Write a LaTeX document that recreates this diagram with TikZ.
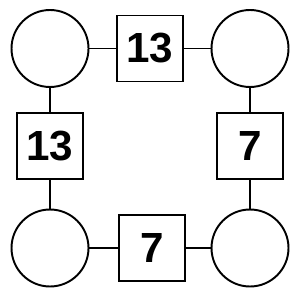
\documentclass[tikz,border=0pt]{standalone}
\usepackage{fontspec}
\setmainfont{Liberation Sans}
\usepackage{tikz}
\usetikzlibrary{positioning}

\begin{document}
\begin{tikzpicture}[x=0.02cm, y=-0.02cm, line width=1.1pt,
  spot/.style = {draw, circle, minimum size=1.54cm, inner sep=0pt},
  val/.style  = {draw, minimum size=1.32cm, inner sep=0pt,
                 font=\fontsize{24}{28}\selectfont\bfseries}
]
  \useasboundingbox (0,0) rectangle (300,300);

  %% corner circles
  \node[spot] (TL) at (50,48.5)   {};
  \node[spot] (TR) at (250,48.5)  {};
  \node[spot] (BL) at (50,248)  {};
  \node[spot] (BR) at (250,248) {};

  %% numbered boxes
  \node[val] (T) at (150,48.5) {13};
  \node[val] (L) at (50,146)   {13};
  \node[val] (R) at (250,146)  {7};
  \node[val] (B) at (152,248)  {7};

  %% links
  \draw (TL) -- (T);
  \draw (T) -- (TR);
  \draw (TL) -- (L);
  \draw (L) -- (BL);
  \draw (TR) -- (R);
  \draw (R) -- (BR);
  \draw (BL) -- (B);
  \draw (B) -- (BR);
\end{tikzpicture}
\end{document}
